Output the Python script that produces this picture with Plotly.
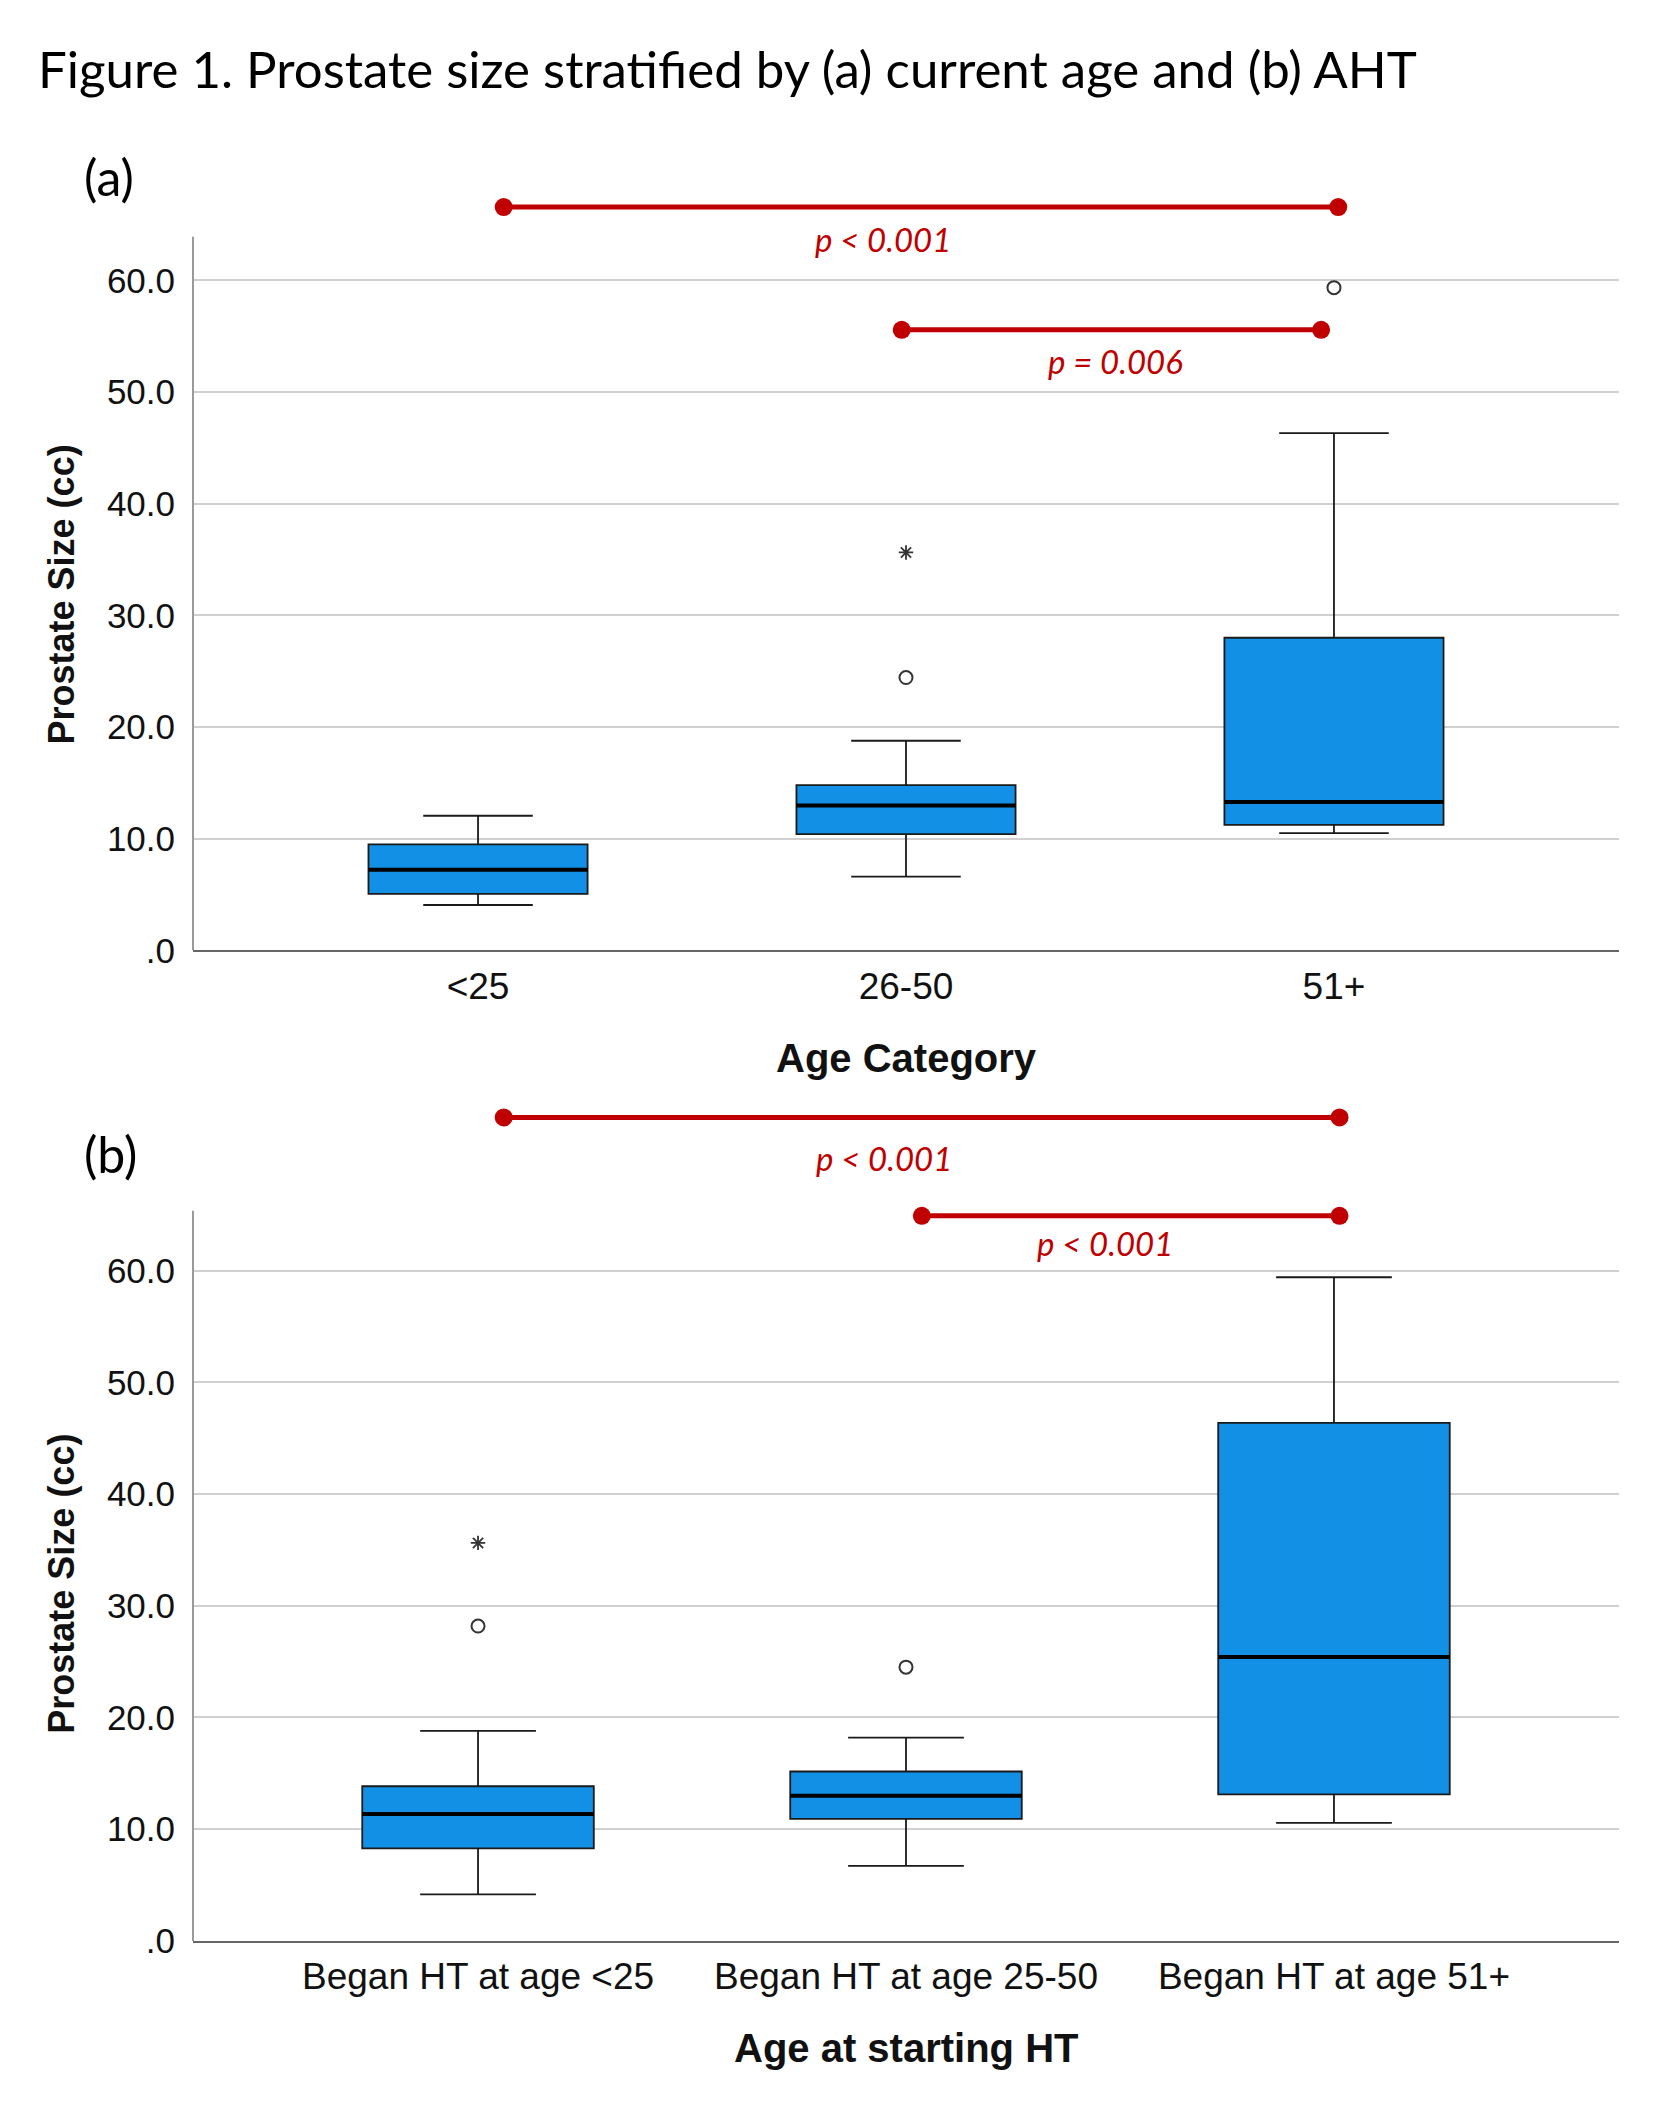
import plotly.graph_objects as go

# ---------------- data ----------------
categories_a = ["<25", "26-50", "51+"]
q1_a = [5.07, 10.42, 11.24]
median_a = [7.22, 12.98, 13.30]
q3_a = [9.50, 14.80, 28.00]
lower_a = [4.07, 6.62, 10.50]
upper_a = [12.06, 18.78, 46.33]
outlier_x_a = [1, 2]
outlier_y_a = [24.44, 59.35]
extreme_x_a = [1]
extreme_y_a = [35.64]

categories_b = ["Began HT at age <25", "Began HT at age 25-50", "Began HT at age 51+"]
q1_b = [8.28, 10.92, 13.12]
median_b = [11.36, 13.00, 25.42]
q3_b = [13.84, 15.16, 46.37]
lower_b = [4.16, 6.72, 10.56]
upper_b = [18.79, 18.19, 59.40]
outlier_x_b = [0, 1]
outlier_y_b = [28.18, 24.50]
extreme_x_b = [0]
extreme_y_b = [35.62]

y_tick_vals = [0, 10, 20, 30, 40, 50, 60]
y_tick_text = [".0", "10.0", "20.0", "30.0", "40.0", "50.0", "60.0"]

# significance comparisons (category-position endpoints, y level, label)
sig_a_x0 = [0.06, 0.99]
sig_a_x1 = [2.01, 1.97]
sig_a_y = [66.57, 55.57]
sig_a_text = ["p < 0.001", "p = 0.006"]
sig_a_text_x = [0.946, 1.49]
sig_a_text_y = [63.7, 52.8]

sig_b_x0 = [0.06, 1.037]
sig_b_x1 = [2.013, 2.013]
sig_b_y = [73.7, 64.9]
sig_b_text = ["p < 0.001", "p < 0.001"]
sig_b_text_x = [0.948, 1.465]
sig_b_text_y = [70.07, 62.5]

# ---------------- styles ----------------
PAGE_W, PAGE_H = 1673, 2114
OFF = 8  # default page body margin (px)
FW, FH = PAGE_W - 2 * OFF, PAGE_H - 2 * OFF
VS, VB = 0.9907, 1.35  # empirical vertical capture correction
BOX_FILL = "#1290E6"
BOX_LINE = "#1a1a1a"
RED = "#C00000"
GRID = "#d0d0d0"
ARIAL = "Liberation Sans, Arial, sans-serif"
CALIBRI = "Lato, Carlito, Calibri, sans-serif"


def px_x(v):
    return (v - OFF) / FW


def cy(v):
    return (v - VB) / VS


def px_y(v):
    return (FH - (cy(v) - OFF)) / FH


fig = go.Figure()


def add_panel(xa, ya, cats, q1, med, q3, lo, hi, ox, oy, ex, ey,
              sx0, sx1, sy, st, stx, sty, box_w):
    fig.add_trace(go.Box(
        x=list(range(len(cats))), q1=q1, median=med, q3=q3,
        lowerfence=lo, upperfence=hi,
        width=box_w, whiskerwidth=0.5,
        fillcolor=BOX_FILL, line=dict(color=BOX_LINE, width=1.8),
        boxpoints=False, hoverinfo="skip",
        xaxis=xa, yaxis=ya, showlegend=False))
    # thicker median lines
    mx, my = [], []
    for i, m in enumerate(med):
        mx += [i - box_w / 2, i + box_w / 2, None]
        my += [m, m, None]
    fig.add_trace(go.Scatter(x=mx, y=my, mode="lines",
                             line=dict(color="#000000", width=4),
                             hoverinfo="skip", xaxis=xa, yaxis=ya,
                             showlegend=False))
    fig.add_trace(go.Scatter(x=ox, y=oy, mode="markers",
                             marker=dict(symbol="circle-open", size=13,
                                         line=dict(color="#333333", width=2),
                                         color="#333333"),
                             xaxis=xa, yaxis=ya, showlegend=False,
                             cliponaxis=False))
    fig.add_trace(go.Scatter(x=ex, y=ey, mode="markers",
                             marker=dict(symbol="asterisk-open", size=12,
                                         line=dict(color="#333333", width=1.8),
                                         color="#333333"),
                             xaxis=xa, yaxis=ya, showlegend=False,
                             cliponaxis=False))
    for a, b, yv in zip(sx0, sx1, sy):
        fig.add_trace(go.Scatter(x=[a, b], y=[yv, yv], mode="lines+markers",
                                 line=dict(color=RED, width=5),
                                 marker=dict(color=RED, size=18),
                                 xaxis=xa, yaxis=ya, showlegend=False,
                                 cliponaxis=False))
    for t, tx, ty in zip(st, stx, sty):
        fig.add_annotation(x=tx, y=ty, xref=xa, yref=ya, text="<i>%s</i>" % t,
                           showarrow=False,
                           font=dict(family=CALIBRI, size=33, color=RED))


add_panel("x", "y", categories_a, q1_a, median_a, q3_a, lower_a, upper_a,
          outlier_x_a, outlier_y_a, extreme_x_a, extreme_y_a,
          sig_a_x0, sig_a_x1, sig_a_y, sig_a_text, sig_a_text_x, sig_a_text_y, 0.512)
add_panel("x2", "y2", categories_b, q1_b, median_b, q3_b, lower_b, upper_b,
          outlier_x_b, outlier_y_b, extreme_x_b, extreme_y_b,
          sig_b_x0, sig_b_x1, sig_b_y, sig_b_text, sig_b_text_x, sig_b_text_y, 0.541)

x_dom = [px_x(193), px_x(1619)]
x_range = [-0.666, 2.666]

common_x = dict(range=x_range, domain=x_dom, tickvals=[0, 1, 2],
                showgrid=False, zeroline=False, showline=True,
                linecolor="#666666", linewidth=2, ticks="outside", ticklen=2,
                tickcolor="rgba(0,0,0,0)",
                tickfont=dict(family=ARIAL, size=37, color="#111111"),
                fixedrange=True)
common_y = dict(tickvals=y_tick_vals, ticktext=y_tick_text, showgrid=True,
                gridcolor=GRID, gridwidth=2, zeroline=False, showline=False,
                ticks="outside", ticklen=10, tickcolor="rgba(0,0,0,0)",
                tickfont=dict(family=ARIAL, size=35, color="#111111"),
                fixedrange=True)

y_a_range = [0, 68]
y_b_range = [0, 75]
y_a_top_axis = 63.9
y_b_top_axis = 65.36
a_zero_px, a_scale = 951.5, 11.165
b_zero_px, b_scale = 1941.7, 11.17

fig.update_layout(
    width=FW, height=FH, margin=dict(l=0, r=0, t=0, b=0),
    paper_bgcolor="white", plot_bgcolor="white", showlegend=False,
    xaxis=dict(common_x, ticktext=categories_a, anchor="y"),
    yaxis=dict(common_y, range=y_a_range,
               domain=[px_y(a_zero_px), px_y(a_zero_px - y_a_range[1] * a_scale)],
               anchor="x"),
    xaxis2=dict(common_x, ticktext=categories_b, anchor="y2"),
    yaxis2=dict(common_y, range=y_b_range,
                domain=[px_y(b_zero_px), px_y(b_zero_px - y_b_range[1] * b_scale)],
                anchor="x2"),
)

# y-axis lines (stop at top of data region)
for xr, yr, top in (("x domain", "y", y_a_top_axis), ("x2 domain", "y2", y_b_top_axis)):
    fig.add_shape(type="line", xref=xr, yref=yr, x0=0, x1=0, y0=0, y1=top,
                  line=dict(color="#9a9a9a", width=2), layer="above")

# titles / labels
fig.add_annotation(text="Figure 1. Prostate size stratified by (a) current age and (b) AHT",
                   xref="paper", yref="paper", x=px_x(36), y=px_y(70),
                   xanchor="left", yanchor="middle", showarrow=False,
                   font=dict(family=CALIBRI, size=51, color="#000000"))
for lab, yy in (("(a)", 178), ("(b)", 1155)):
    fig.add_annotation(text=lab, xref="paper", yref="paper", x=px_x(82), y=px_y(yy),
                       xanchor="left", yanchor="middle", showarrow=False,
                       font=dict(family=CALIBRI, size=50, color="#000000"))
for xr, txt, yy in (("x", "Age Category", 1059), ("x2", "Age at starting HT", 2049)):
    fig.add_annotation(text="<b>%s</b>" % txt, xref=xr, yref="paper", x=1, y=px_y(yy),
                       xanchor="center", yanchor="middle", showarrow=False,
                       font=dict(family=ARIAL, size=40, color="#111111"))
for yy in (596, 1585):
    fig.add_annotation(text="<b>Prostate Size (cc)</b>", xref="paper", yref="paper",
                       x=px_x(61.6), y=px_y(yy), textangle=-90,
                       xanchor="center", yanchor="middle", showarrow=False,
                       font=dict(family=ARIAL, size=36, color="#111111"))

fig.write_html("out.html")
